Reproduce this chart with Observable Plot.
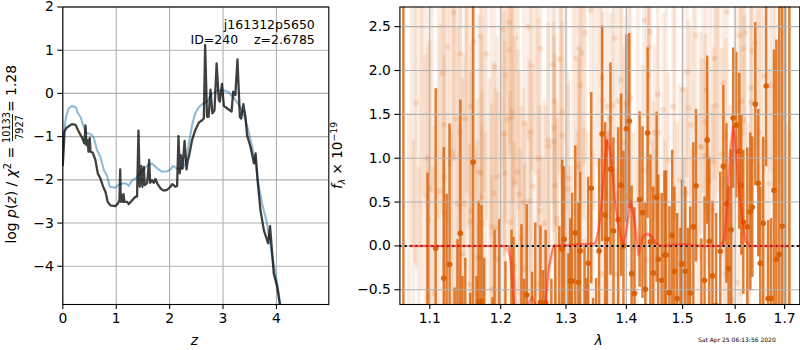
<!DOCTYPE html>
<html><head><meta charset="utf-8">
<style>
html,body{margin:0;padding:0;background:#fff}
#wrap{position:relative;width:800px;height:350px;overflow:hidden;font-family:"DejaVu Sans"}
#wrap svg{position:absolute;top:0;background:transparent;overflow:visible}
</style>
<script src="https://cdn.jsdelivr.net/npm/d3@7"></script>
<script src="https://cdn.jsdelivr.net/npm/@observablehq/plot@0.6"></script>
</head><body><div id="wrap"></div>
<script>
// ---------- left panel: p(z)
const zDark=[0,.02,.03,.06,.11,.17,.24,.30,.36,.405,.425,.443,.468,.48,.505,.518,.56,.61,.655,.705,.755,.80,.84,.89,.985,1.03,1.06,1.075,1.085,1.11,1.125,1.136,1.155,1.205,1.235,1.30,1.36,1.39,1.417,1.44,1.467,1.49,1.517,1.535,1.58,1.617,1.635,1.67,1.705,1.735,1.767,1.83,1.89,1.955,2.016,2.05,2.11,2.14,2.166,2.19,2.21,2.24,2.28,2.316,2.34,2.36,2.42,2.48,2.55,2.61,2.64,2.665,2.70,2.73,2.765,2.80,2.84,2.88,2.92,2.94,2.98,3.015,3.08,3.16,3.19,3.23,3.27,3.315,3.34,3.38,3.42,3.45,3.515,3.58,3.61,3.65,3.70,3.765,3.845,3.88,3.92,3.95,4.015,4.065];
const logpDark=[-1.66,-1.2,-.89,-.81,-.76,-.71,-.73,-.89,-1.02,-1.16,-.74,-1.2,-1.08,-1.35,-1.03,-1.35,-1.37,-1.54,-1.85,-1.97,-2.16,-2.28,-2.51,-2.59,-2.61,-2.55,-2.47,-1.76,-2.51,-2.36,-2.51,-2.33,-2.51,-2.51,-2.56,-2.47,-2.39,-2.39,-.86,-2.16,-1.68,-2.16,-1.70,-2.12,-2.07,-1.54,-2.07,-2.01,-2.07,-1.98,-2.08,-2.2,-2.25,-2.23,-2.16,-2.1,-2.16,-2.14,-.99,-1.85,-1.43,-1.74,-1.10,-1.76,-1.55,-1.47,-1.08,-.85,-.67,-.62,-.58,1.12,-.54,-.54,.09,-.46,-.39,.695,-.15,-.19,.22,-.29,-.35,-.42,.04,-.04,.79,-.54,-.58,-.25,-.54,-.97,-1.24,-1.62,-1.39,-2.05,-2.7,-3.17,-3.47,-3.07,-3.7,-4.17,-4.48,-4.9];
const zBlue=[0,.03,.06,.11,.17,.24,.28,.33,.39,.44,.52,.58,.64,.705,.77,.83,.88,.985,1.05,1.14,1.19,1.235,1.30,1.39,1.49,1.58,1.67,1.77,1.86,1.955,2.016,2.06,2.14,2.235,2.30,2.36,2.42,2.48,2.55,2.61,2.70,2.80,2.89,3.0,3.11,3.20,3.30,3.39,3.48,3.545,3.61,3.65,3.73,3.825,3.92,4.015,4.075];
const logpBlue=[-1.23,-.85,-.54,-.35,-.29,-.32,-.45,-.54,-.77,-.91,-.94,-1.02,-1.31,-1.47,-1.78,-1.91,-2.16,-2.18,-2.11,-2.08,-2.09,-2.14,-2.01,-1.95,-1.78,-1.68,-1.62,-1.74,-1.81,-1.80,-1.76,-1.68,-1.74,-1.74,-1.62,-1.16,-.73,-.46,-.31,-.25,-.19,0,.06,.08,.02,-.1,-.27,-.50,-.89,-1.24,-1.62,-2.01,-2.55,-3.01,-3.78,-4.40,-4.9];
const zTicks=[0,1,2,3,4], logpTicks=[2,1,0,-1,-2,-3,-4];

// ---------- right panel: spectrum
const darkWave=[1.065,1.097,1.108,1.119,1.123,1.127,1.134,1.138,1.142,1.145,1.149,1.156,1.160,1.165,1.168,1.172,1.176,1.188,1.191,1.198,
1.207,1.216,1.219,1.231,1.235,1.239,1.247,1.252,1.260,1.264,1.268,1.277,1.283,1.2895,1.294,1.297,1.304,1.307,1.310,1.315,1.320,1.323,1.330,1.333,1.336,1.341,1.344,1.349,1.354,
1.359,1.364,1.367,1.373,1.378,1.386,1.391,1.395,1.400,1.405,1.409,1.414,1.423,1.428,1.433,1.437,1.442,1.447,1.453,1.456,1.462,1.467,1.470,1.476,1.481,1.485,1.490,1.496,1.499,1.505,1.510,1.514,1.520,1.525,
1.535,1.541,1.546,1.550,1.556,1.563,1.571,1.577,1.583,1.587,1.592,1.596,1.602,1.608,1.612,1.616,1.624,1.630,1.634,1.640,1.646,1.650,1.656,1.662,1.666,1.672,1.678,1.683,1.689,1.695,1.701,1.710];
const darkFlux=[3,-.8,-.027,-.37,-.8,-.21,-1,-.9,.145,-1,-.9,-1,.955,-1,-.64,-.63,-.9,-1,-.9,-.9,
-1,-.9,-.9,-.9,-1,-.56,-1,-.9,-.643,-.95,-.65,-1,-.9,-.8,-.038,.076,-.9,-.4,-.4,.148,-.415,-.057,-.8,-1,-.198,.658,-1,-1,-.057,
1.278,.354,.076,.875,.171,.297,.693,0,1.336,1.423,-.316,-.544,.529,.38,-.495,1.286,.046,-.308,.556,-.152,-.392,-.107,-.103,-.533,.122,-.289,-.6,-.77,-.205,-.289,-.75,-.537,.217,.685,
-.8,-.392,1.206,.053,-.342,-.68,-.061,.909,.483,-.259,.183,1.457,1.377,1.08,.693,.27,.217,.388,.441,1.617,.715,-.198,.259,1.823,-.6,-.6,.635,-.152,-.095,.224,-1,-1];
const darkErr=[3.8,1.63,1.82,1.49,1.39,1.6,.52,.97,1.52,.65,.76,.46,2.31,.65,1.15,1.09,.76,.41,1.08,1.2,
.82,1.08,1.0,1.14,.62,1.03,.7,1.16,.87,.67,.83,.62,.91,1.02,1.016,.826,.81,.71,1.0,.99,.9,.9,.79,.63,.98,1.09,.4,.63,1.05,
1.23,1.05,1.13,1.21,1.06,1.05,1.04,1.08,1.07,1.0,1.0,.98,1.0,.98,.98,.97,.99,.98,.97,.96,.99,.96,.96,.98,.97,.96,.97,.97,.95,.96,.95,.98,.96,.87,
.88,.95,.96,.95,.85,1.05,.9,.92,.91,.93,.91,.8,.83,.89,.8,.82,.9,.9,.8,.93,.84,.87,.98,.92,.89,.91,1.6,2.5,2.85,2.6,4,4];

const lightWave=[1.133,1.171,1.161,1.124,1.142,1.179,1.117,1.191,1.082,1.137,1.149,1.119,1.142,1.157,1.131,1.097,1.133,1.168,1.172,1.195,1.120,1.100,1.114,1.094,1.190,1.173,1.147,1.138,1.157,1.098,1.120,1.156,1.173,1.193,1.187,1.145,1.166,1.172,1.196,1.155,1.187,1.106,1.098,
1.340,1.213,1.241,1.203,1.331,1.222,1.213,1.260,1.321,1.325,1.316,1.290,1.279,1.247,1.207,1.323,1.282,1.217,1.294,1.210,1.216,1.235,1.281,1.205,1.245,1.294,1.272,1.281,1.272,1.257,1.320,1.322,1.206,1.225,1.304,1.220,1.248,1.283,1.304,1.228,1.234,1.243,1.259,1.214,1.286,1.266,1.286,1.329,1.231,1.220,1.236,1.263,1.257,
1.431,1.441,1.380,1.524,1.439,1.508,1.359,1.439,1.391,1.500,1.455,1.360,1.386,1.407,1.367,1.377,1.399,1.465,1.483,1.511,1.373,1.515,1.449,1.456,1.396,1.533,1.474,1.428,1.495,1.447,1.506,1.399,1.382,1.359,1.435,1.500,
1.584,1.608,1.620,1.640,1.616,1.634,1.560,1.658,1.577,1.631,1.670,1.544,1.613,1.631,1.562,1.542,1.618,1.581,1.648,1.535,1.574,1.558,1.542,1.548,1.669,1.556,1.604,1.612,1.593,1.581,
1.072,1.076,1.080,1.085,1.089,1.092,1.103,1.110,1.127,1.152,1.165,1.176,1.184,1.200,1.226,1.238,1.252,1.268,1.300,1.312,1.335,1.345,1.351,1.370,1.392,1.412,1.420,1.445,1.470,1.490,1.520,1.529,1.552,1.568,1.590,1.600,1.625,1.652,1.663,1.676,1.690,1.705,
1.078,1.087,1.104,1.112,1.129,1.140,1.151,1.163,1.178,1.186,1.205,1.218,1.229,1.244,1.255,1.274,1.292,1.307,1.318,1.328,1.343,1.356,1.375,1.388,1.404,1.418,1.436,1.452,1.468,1.486,1.503,1.517,1.538,1.548,1.566,1.579,1.596,1.610,1.628,1.645,1.655,1.680,1.695,1.710];
const lightFlux=[2.66,2.39,2.33,2.27,2.19,2.19,1.97,2.04,1.63,1.45,1.45,1.38,1.30,1.59,1.07,1.00,1.02,.84,.83,.79,.78,.65,.63,.58,.60,.56,.48,.48,.40,.30,.37,.28,.26,.20,.22,-.09,-.13,-.13,-.15,-.44,-.49,-.54,-.58,
2.69,2.55,2.50,2.47,2.43,2.37,2.23,2.25,2.25,2.20,2.14,2.13,2.07,2.05,1.95,1.83,1.65,1.53,1.53,1.44,1.47,1.40,1.35,1.28,1.30,1.26,1.21,1.19,1.14,1.00,.93,.89,.83,.84,.77,.73,.68,.69,.65,.59,.50,.51,.40,.27,.31,.26,.25,.05,.09,-.23,-.27,-.31,-.43,
2.57,2.44,2.37,2.40,2.26,1.98,1.92,1.95,1.89,1.78,1.73,1.66,1.65,1.69,1.59,1.60,1.62,1.55,1.59,1.57,1.45,1.38,1.29,1.29,1.18,1.13,.97,.86,.75,.64,.60,.56,-.32,-.32,-.16,-.21,
2.67,2.40,2.43,2.31,2.25,2.23,2.14,1.94,1.86,1.80,1.83,1.78,1.65,1.64,1.60,1.41,1.43,1.26,1.29,1.13,1.05,.96,1.03,.75,.71,.41,-.42,-.54,-.62,-.32,
-.9,3.0,3.1,-1,2.9,3.0,3.2,-.9,3.1,3.0,-1,3.2,-1,3.0,3.1,-1,3.0,-1,3.2,3.1,-1,3.0,3.1,-1,3.1,-1,3.0,-1,3.0,-1,3.2,-1,3.1,3.0,-1,3.1,-1,3.0,-1,3.1,3.0,-1,
-1,3.1,-1.1,3,-1,-1.2,3.1,-1,-1.1,3,-1,3.1,-1,-1.2,3,-1,3.1,-1.1,-1,3,-1,3.1,-1,-1.1,3,-1,3.1,-1,-1.2,3,-1,-1.1,3.1,-1,3,-1,-1.1,3,-1,3.1,-1,3,-1.1,-1];
const lightErr=[1.7,1.9,1.5,2.0,1.8,1.9,1.6,2.2,1.9,2.1,1.7,1.8,2.2,1.6,1.9,1.7,2.3,1.8,2.0,1.6,2.1,1.7,1.9,1.6,1.5,1.8,1.7,2.0,1.9,2.0,1.8,1.7,1.5,1.6,1.4,2.0,1.8,1.5,1.9,1.6,1.3,1.9,1.6,
1.2,1.4,1.3,1.6,1.5,1.7,1.2,1.8,1.4,1.3,1.5,1.3,1.6,1.2,1.7,1.3,1.4,1.6,1.2,1.5,1.3,1.7,1.2,1.4,1.6,1.3,1.5,1.2,1.4,1.6,1.2,1.3,1.5,1.4,1.2,1.6,1.3,1.5,1.2,1.4,1.3,1.6,1.2,1.5,1.3,1.4,1.2,1.3,1.5,1.4,1.2,1.3,1.3,
1.1,1.3,1.2,1.1,1.4,1.2,1.0,1.3,1.1,1.2,1.3,1.0,1.2,1.1,1.3,1.2,1.0,1.1,1.3,1.0,1.2,1.1,1.0,1.2,1.1,1.3,1.0,1.2,1.1,1.0,1.2,1.1,1.2,1.0,1.1,1.2,
1.3,1.1,1.4,1.2,1.0,1.3,1.4,1.1,1.2,1.3,1.0,1.4,1.1,1.2,1.3,1.0,1.2,1.1,1.4,1.0,1.2,1.3,1.1,1.0,1.3,1.2,1.2,1.0,1.1,1.2,
2.4,3.0,3.3,1.9,3.4,2.4,2.6,2.7,2.2,2.8,2.2,2.6,2.9,3.0,2.7,2.4,2.2,2.6,2.8,2.5,2.3,2.6,2.2,2.5,2.4,2.3,2.6,2.2,2.5,2.4,2.3,2.5,2.4,2.2,2.6,2.3,2.4,2.5,2.2,2.6,2.3,2.4,
2.2,3.1,2.0,2.7,2.3,2.6,2.5,2.1,2.4,2.9,2.3,2.6,2.1,2.5,2.8,2.2,2.4,2.0,2.3,2.7,2.1,2.5,2.2,1.9,2.6,2.0,2.3,2.1,2.4,2.7,2.0,2.2,2.5,2.1,2.4,1.9,2.2,2.6,2.0,2.5,2.2,2.7,2.1,2.3];

const modelWave=[1.074,1.205,1.212,1.2143,1.217,1.220,1.226,1.240,1.241,1.247,1.252,1.254,1.266,1.268,1.272,1.279,1.282,1.348,1.353,1.356,1.361,1.367,1.373,1.381,1.390,1.395,1.401,1.407,1.412,1.419,1.421,1.428,1.433,1.442,1.451,1.460,1.501,1.533,1.573,1.579,1.584,1.590,1.596,1.600,1.606,1.613,1.620,1.626,1.708];
const modelFlux=[0,0,0,-.16,-.43,-.67,-1,-1,-.67,-.58,-.67,-1,-1,-.67,-.28,-.03,0,.03,.18,.33,.75,1.21,1.05,.48,.10,.02,.22,.52,.37,-.01,-.11,.08,.13,.13,.03,0,.02,0,0,.10,.45,1.09,1.36,1.17,.71,.37,.06,0,0];
const paleWave=[1.074,1.204,1.209,1.214,1.218,1.223,1.230,1.262,1.270,1.275,1.281,1.347,1.352,1.358,1.364,1.369,1.376,1.384,1.392,1.398,1.403,1.408,1.414,1.422,1.427,1.435,1.444,1.454,1.462,1.501,1.533,1.573,1.580,1.586,1.592,1.597,1.602,1.608,1.615,1.622,1.628,1.708];
const paleFlux=[0,0,-.04,-.12,-.2,-.67,-1,-1,-.5,-.2,0,.02,.12,.45,1.0,1.3,1.0,.38,.06,.02,.3,.5,.3,.02,.1,.15,.1,.02,0,.02,0,0,.08,.35,.95,1.32,1.25,.8,.35,.06,0,0];
const waveTicks=[1.1,1.2,1.3,1.4,1.5,1.6,1.7], fluxTicks=[-.5,0,.5,1,1.5,2,2.5];

const font="DejaVu Sans", tickFont=13.9, gridColor="#b0b0b0", orange="#d95f02";
const base={height:350,marginTop:6.5,marginBottom:46,style:{fontFamily:font,background:"transparent",overflow:"visible",whiteSpace:"pre"}};
const axOpts={fontSize:tickFont,stroke:"#000",strokeWidth:1.1,tickSize:5,label:null,color:"#000"};

const left=Plot.plot({...base,width:340,marginLeft:62.3,marginRight:11.7,
  x:{domain:[0,4.98]},y:{domain:[-4.885,2.0]},
  marks:[
    Plot.gridX(zTicks,{stroke:gridColor,strokeOpacity:1,strokeWidth:1.1}),
    Plot.gridY(logpTicks,{stroke:gridColor,strokeOpacity:1,strokeWidth:1.1}),
    Plot.line(logpBlue,{x:zBlue,y:logpBlue,stroke:"#1f77b4",strokeOpacity:.5,strokeWidth:2.1,clip:true}),
    Plot.line(logpDark,{x:zDark,y:logpDark,stroke:"#000",strokeOpacity:.75,strokeWidth:2.3,strokeLinejoin:"round",clip:true}),
    Plot.frame({stroke:"#000",strokeWidth:1.1}),
    Plot.axisX(zTicks,{...axOpts,tickFormat:d=>String(d),tickPadding:4}),
    Plot.axisY(logpTicks,{...axOpts,tickFormat:d=>String(d).replace("-","\u2212"),tickPadding:4}),
    Plot.text(["j161312p5650\nID=240    z=2.6785"],{frameAnchor:"top-right",textAnchor:"end",dx:-14,dy:11,fontSize:12.5,lineHeight:1.2,fill:"#000"})
  ]});

const right=Plot.plot({...base,width:460,marginLeft:59.4,marginRight:.7,
  x:{type:"log",domain:[1.0604,1.732]},y:{domain:[-.668,2.724]},
  marks:[
    Plot.ruleX(lightFlux,{x:lightWave,y1:(d,i)=>d-lightErr[i],y2:(d,i)=>d+lightErr[i],stroke:orange,strokeOpacity:.11,strokeWidth:3.6,clip:true}),
    Plot.ruleX(darkFlux,{x:darkWave,y1:(d,i)=>d-darkErr[i],y2:(d,i)=>d+darkErr[i],stroke:orange,strokeOpacity:.8,strokeWidth:2.5,clip:true}),
    Plot.gridX(waveTicks,{stroke:gridColor,strokeOpacity:1,strokeWidth:1.1}),
    Plot.gridY(fluxTicks,{stroke:gridColor,strokeOpacity:1,strokeWidth:1.1}),
    Plot.dot(lightFlux,{x:lightWave,y:lightFlux,r:2.9,fill:orange,fillOpacity:.14,stroke:"none",clip:true}),
    Plot.dot(darkFlux,{x:darkWave,y:darkFlux,r:2.8,fill:orange,fillOpacity:.95,stroke:"none",clip:true}),
    Plot.ruleY([0],{stroke:"#000",strokeWidth:2,strokeDasharray:"2,3.3"}),
    Plot.line(paleFlux,{x:paleWave,y:paleFlux,stroke:"#ff3b30",strokeOpacity:.25,strokeWidth:3,clip:true}),
    Plot.line(modelFlux,{x:modelWave,y:modelFlux,stroke:"#ff2a10",strokeOpacity:.5,strokeWidth:2,clip:true}),
    Plot.frame({stroke:"#000",strokeWidth:1.1}),
    Plot.axisX(waveTicks,{...axOpts,tickFormat:".1f",tickPadding:4}),
    Plot.axisY(fluxTicks,{...axOpts,tickFormat:d=>d3.format(".1f")(d).replace("-","\u2212"),tickPadding:4})
  ]});

right.style.left="340px"; left.style.left="0px";
const wrap=document.getElementById("wrap");
wrap.append(left,right);

// axis titles and stamp, as real text
function free(svg,transform,size,anchor){
  return d3.select(svg).append("text").attr("transform",transform).attr("font-family",font).attr("font-size",size)
    .attr("fill","#000").style("text-anchor",anchor||"start");
}
free(left,"translate(194.5,345)",13.9,"middle").attr("font-style","italic").text("z");
free(right,"translate(258.5,345)",13.9,"middle").attr("font-style","italic").text("λ");
free(left,"translate(16,243.5) rotate(-90)",13.9)
  .call(t=>{t.append("tspan").text("log ");t.append("tspan").attr("font-style","italic").text("p");t.append("tspan").text("(");t.append("tspan").attr("font-style","italic").text("z");t.append("tspan").text(") / ");t.append("tspan").attr("font-style","italic").text("χ");t.append("tspan").attr("dy",-5).attr("font-size",9.7).text("2");t.append("tspan").attr("dy",5).text(" =");});
free(left,"translate(10,127.5) rotate(-90)",9.7,"middle").text("10133");
d3.select(left).append("line").attr("x1",12.5).attr("x2",12.5).attr("y1",114).attr("y2",141).attr("stroke","#000").attr("stroke-width",.9);
free(left,"translate(22.5,127.5) rotate(-90)",9.7,"middle").text("7927");
free(left,"translate(16,112) rotate(-90)",13.9).text("= 1.28");
free(right,"translate(2,189) rotate(-90)",13.5)
  .call(t=>{t.append("tspan").attr("font-style","italic").text("f");t.append("tspan").attr("font-style","italic").attr("font-size",9.4).attr("dy",3).text("λ");t.append("tspan").attr("dy",-3).text(" × 10");t.append("tspan").attr("font-size",9.4).attr("dy",-5).text("−19");});
free(right,"translate(358,342)",6).text("Sat Apr 25 06:13:56 2020");
</script></body></html>
